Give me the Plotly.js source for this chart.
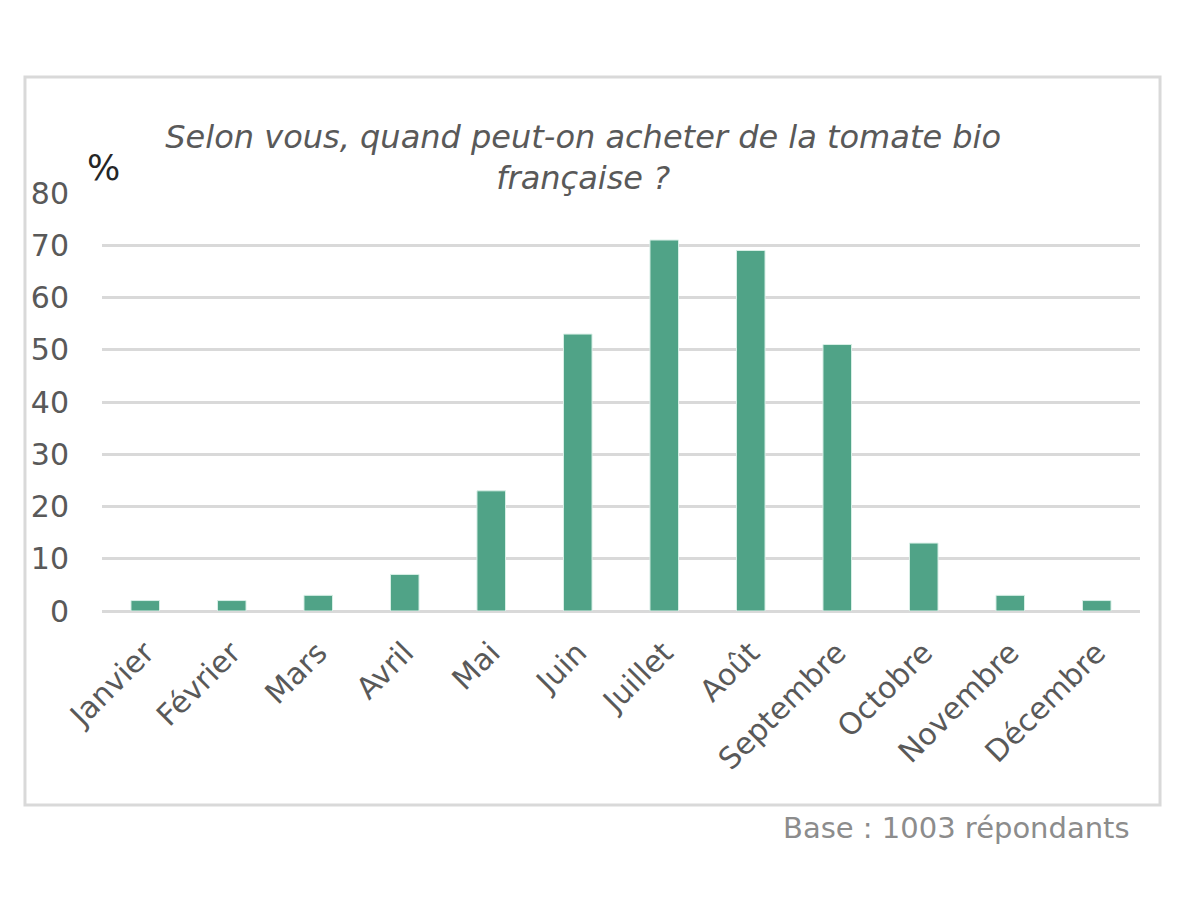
<!DOCTYPE html>
<html>
<head>
<meta charset="utf-8">
<script src="https://cdn.plot.ly/plotly-3.0.1.min.js"></script>
<style>
  html, body { margin: 0; padding: 0; background: #ffffff; }
  #chart { width: 1200px; height: 900px; }
</style>
</head>
<body>
<div id="chart"></div>
<script>
const months = ["Janvier", "Février", "Mars", "Avril", "Mai", "Juin", "Juillet", "Août", "Septembre", "Octobre", "Novembre", "Décembre"];
const percentages = [2, 2, 3, 7, 23, 53, 71, 69, 51, 13, 3, 2];
const yTicks = [0, 10, 20, 30, 40, 50, 60, 70, 80];
const titleText = "Selon vous, quand peut-on acheter de la tomate bio<br>française ?";
const unitLabel = "%";
const footnote = "Base : 1003 répondants";

const FONT = "DejaVu Sans, Verdana, sans-serif";

const trace = {
  type: "bar",
  x: months,
  y: percentages,
  marker: { color: "#50a387", line: { color: "#d8efe6", width: 1 } },
  hoverinfo: "x+y"
};

const layout = {
  width: 1200,
  height: 900,
  paper_bgcolor: "#ffffff",
  plot_bgcolor: "#ffffff",
  margin: { l: 102, r: 60, t: 193, b: 289 },
  bargap: 0.67,
  showlegend: false,
  font: { family: FONT, color: "#595959" },
  title: {
    text: titleText,
    font: { family: FONT, size: 32, color: "#595959", style: "italic" },
    x: 0.486,
    xanchor: "center",
    xref: "container",
    y: 0.836,
    yanchor: "middle",
    yref: "container"
  },
  xaxis: {
    type: "category",
    tickangle: -45,
    tickfont: { family: FONT, size: 30, color: "#595959" },
    showgrid: false,
    showline: false,
    zeroline: false,
    ticks: "",
    ticklabelstandoff: 17
  },
  yaxis: {
    range: [0, 80],
    tickvals: yTicks,
    tickfont: { family: FONT, size: 30, color: "#595959" },
    showgrid: true,
    gridcolor: "#d9d9d9",
    gridwidth: 2.5,
    zeroline: true,
    zerolinecolor: "#d9d9d9",
    zerolinewidth: 2.5,
    showline: false,
    ticks: "",
    ticklabelstandoff: 32,
    fixedrange: true
  },
  shapes: [
    {
      type: "rect",
      xref: "paper", yref: "paper",
      x0: -0.0742, x1: 1.0193,
      y0: -0.464, y1: 1.2775,
      line: { color: "#d9d9d9", width: 3 },
      fillcolor: "rgba(0,0,0,0)",
      layer: "below"
    }
  ],
  annotations: [
    {
      text: unitLabel,
      xref: "paper", yref: "paper",
      x: -0.016, y: 1.06,
      xanchor: "left", yanchor: "middle",
      showarrow: false,
      font: { family: FONT, size: 35, color: "#262626" }
    },
    {
      text: footnote,
      xref: "paper", yref: "paper",
      x: 0.9923, y: -0.519,
      xanchor: "right", yanchor: "middle",
      showarrow: false,
      font: { family: FONT, size: 29, color: "#8c8c8c" }
    }
  ]
};

Plotly.newPlot("chart", [trace], layout, { displayModeBar: false, staticPlot: false });
</script>
</body>
</html>
